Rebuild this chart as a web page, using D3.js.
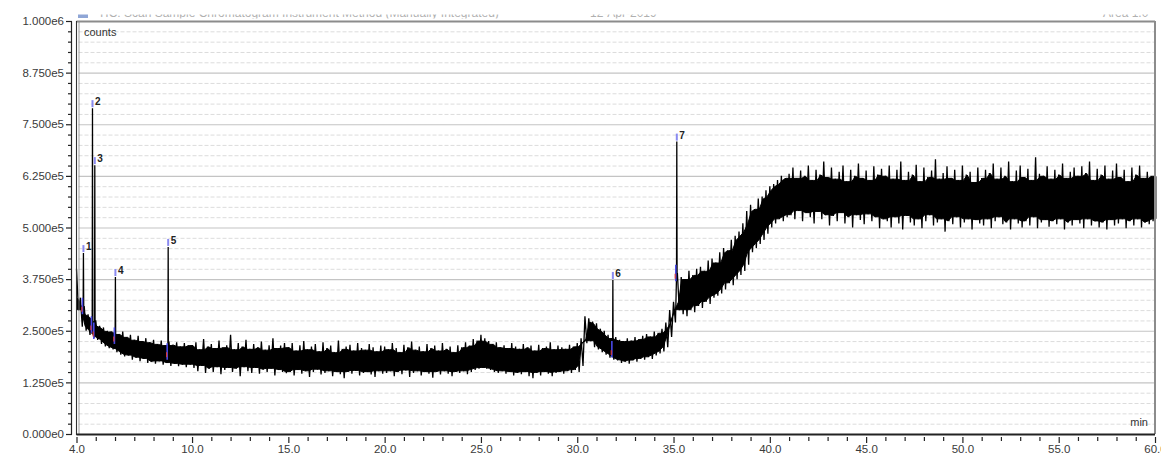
<!DOCTYPE html>
<html>
<head>
<meta charset="utf-8">
<script src="https://cdn.jsdelivr.net/npm/d3@7"></script>
<style>
  html, body { margin: 0; padding: 0; background: #fff; }
  svg { display: block; }
  text { font-family: "Liberation Sans", Arial, sans-serif; }
</style>
</head>
<body>
<svg id="chart" width="1161" height="455"></svg>
<script>
// ---------------- DATA (counts in thousands) ----------------
const T0 = 4.0;          // first sample time (min)
const STEP = 0.2;        // sampling bin (min)

// upper envelope of the noisy trace, one value per 0.2-min bin (k counts)
const traceHigh = [
  // 4.0 - 5.8
  400,330,310,290,285,275,262,258,250,248,
  // 6.0 - 9.8
  250,242,248,235,240,228,238,225,232,222, 228,218,226,215,224,216,222,212,220,215,
  // 10.0 - 14.8
  215,222,205,230,212,218,208,226,210,215, 240,205,220,212,228,206,218,210,224,204, 215,232,208,214,220,
  // 15.0 - 19.8
  210,220,202,215,225,205,212,218,200,222, 208,214,198,226,206,212,216,202,220,208, 204,218,210,200,214,
  // 20.0 - 24.8
  212,205,220,208,198,216,210,224,204,212, 200,218,208,214,202,220,206,212,198,215, 210,222,214,230,226,
  // 25.0 - 30.2
  240,232,225,218,222,210,215,208,220,212, 206,218,210,214,202,216,208,212,222,205, 214,210,206,216,212,220,232,
  // 30.4 - 31.8
  285,280,272,268,255,250,240,232,
  // 32.0 - 34.8
  235,228,225,232,226,235,230,238,242,236,248,245,255,270,300,
  // 35.0 - 40.8
  320,390,380,375,395,385,400,405,395,420, 425,415,440,450,445,470,480,490,510,540, 555,545,570,575,590,600,605,615,625,620,
  // 41.0 - 45.8
  630,645,620,638,625,650,615,640,628,660, 622,645,618,635,650,612,640,625,655,620, 638,615,648,628,642,
  // 46.0 - 50.8
  625,650,618,640,660,615,635,628,652,612, 645,622,638,665,618,632,648,620,640,615, 650,628,635,610,645,
  // 51.0 - 55.8
  620,640,632,655,618,645,625,660,612,638, 650,622,642,615,670,630,625,648,618,640, 628,655,620,635,645,
  // 56.0 - 60.0
  625,648,632,660,615,642,628,650,618,638, 655,622,640,612,645,628,650,620,635,625,630
];

// lower envelope of the noisy trace (k counts)
const traceLow = [
  // 4.0 - 5.8
  300,260,250,240,232,228,218,212,208,205,
  // 6.0 - 9.8
  198,192,188,190,180,185,176,182,172,175, 170,176,168,172,165,170,164,168,162,168,
  // 10.0 - 14.8
  160,152,165,148,158,150,162,145,155,160, 150,158,140,162,152,148,160,146,156,150, 158,142,155,150,147,
  // 15.0 - 19.8
  150,142,155,146,152,138,150,156,144,148, 152,140,150,145,135,150,146,153,142,148, 150,144,138,152,146,
  // 20.0 - 24.8
  148,152,140,150,145,154,138,148,152,142, 150,146,136,150,144,152,146,140,150,148, 152,145,150,155,158,
  // 25.0 - 30.2
  160,158,155,150,148,152,146,150,142,148, 145,150,140,135,148,142,150,146,140,148, 150,146,152,148,155,150,165,
  // 30.4 - 31.8
  220,225,210,205,198,192,185,180,
  // 32.0 - 34.8
  178,172,175,170,178,175,182,180,186,182,190,195,200,210,235,
  // 35.0 - 40.8
  270,300,290,285,300,295,310,305,320,315, 330,335,340,350,365,360,375,385,395,410, 440,450,460,470,485,500,510,520,515,525,
  // 41.0 - 45.8
  530,520,540,515,535,525,510,538,520,530, 505,528,515,535,510,525,500,530,518,508, 532,515,525,498,520,
  // 46.0 - 50.8
  515,500,525,510,495,528,512,505,520,498, 515,530,505,512,520,490,515,508,525,500, 512,520,495,518,510,
  // 51.0 - 55.8
  505,520,498,515,525,508,512,495,520,510, 500,515,505,525,498,512,518,502,515,508, 520,495,512,505,518,
  // 56.0 - 60.0
  510,498,520,505,515,500,512,495,518,505, 510,520,498,515,505,520,500,512,508,515,520
];

// integrated peaks: label, retention time (min), apex and base heights (k counts)
const peakLabels = ["1", "2", "3", "4", "5", "6", "7"];
const peakTimes  = [4.36, 4.83, 4.95, 6.02, 8.76, 31.85, 35.17];
const peakApex   = [438, 789, 651, 380, 453, 373, 708];
const peakBase   = [300, 255, 240, 228, 190, 195, 380];

// axis ticks
const yTickValues = [0, 125, 250, 375, 500, 625, 750, 875, 1000];
const yTickLabels = ["0.000e0","1.250e5","2.500e5","3.750e5","5.000e5","6.250e5","7.500e5","8.750e5","1.000e6"];
const xTickValues = [4, 10, 15, 20, 25, 30, 35, 40, 45, 50, 55, 60];
const xTickLabels = ["4.0","10.0","15.0","20.0","25.0","30.0","35.0","40.0","45.0","50.0","55.0","60.0"];

// ---------------- DRAWING ----------------
const svg = d3.select("#chart");
const L = 76.5, R = 1155, T = 21, B = 434;

const x = d3.scaleLinear().domain([4, 60]).range([L, R]);
const y = d3.scaleLinear().domain([0, 1000]).range([B, T]);

// header (cropped at the top of the picture)
const clip = svg.append("defs").append("clipPath").attr("id", "hdrclip");
clip.append("rect").attr("x", 0).attr("y", 14.5).attr("width", 1161).attr("height", 4);
const hdr = svg.append("g").attr("clip-path", "url(#hdrclip)");
hdr.append("rect").attr("x", 78).attr("y", 14).attr("width", 10).attr("height", 4).attr("fill", "#8fa6d6");
hdr.append("text").attr("x", 98).attr("y", 17).attr("font-size", 12).attr("fill", "#b0b0b0")
  .text("TIC: Scan  Sample Chromatogram  Instrument Method  (Manually Integrated)");
hdr.append("text").attr("x", 590).attr("y", 17).attr("font-size", 12).attr("fill", "#b0b0b0").text("12-Apr-2019");
hdr.append("text").attr("x", 1103).attr("y", 17).attr("font-size", 12).attr("fill", "#b0b0b0").text("Area   1.0");

// grid: minor dashed every 25k, major solid every 125k
const minorY = d3.range(25, 1000, 25).filter(v => v % 125 !== 0);
svg.append("g").selectAll("line").data(minorY).join("line")
  .attr("x1", L + 2).attr("x2", R).attr("y1", d => y(d) + 0.5).attr("y2", d => y(d) + 0.5)
  .attr("stroke", "#dcdcdc").attr("stroke-width", 1).attr("stroke-dasharray", "4,2");
svg.append("g").selectAll("line").data(yTickValues.filter(v => v > 0 && v < 1000)).join("line")
  .attr("x1", L + 2).attr("x2", R).attr("y1", d => y(d) + 0.5).attr("y2", d => y(d) + 0.5)
  .attr("stroke", "#c4c4c4").attr("stroke-width", 1.2);

// solid core of the noise band (inner envelope of neighbouring bins)
const core = traceHigh.map((h, i) => {
  const a = Math.max(0, i - 1), b = Math.min(traceHigh.length - 1, i + 1);
  const hiIn = Math.min(traceHigh[a], traceHigh[i], traceHigh[b]);
  const loIn = Math.max(traceLow[a], traceLow[i], traceLow[b]);
  return { t: T0 + i * STEP + STEP / 4, y1: hiIn - 1, y0: loIn + 1 };
});
svg.append("path").datum(core)
  .attr("fill", "#000").attr("stroke", "#000").attr("stroke-width", 1)
  .attr("d", d3.area().x(d => x(d.t)).y0(d => y(d.y0)).y1(d => y(d.y1)));

// trace: alternating upper/lower envelope plus the peak apexes
const pts = [];
traceHigh.forEach((h, i) => {
  const t = T0 + i * STEP;
  pts.push({ t: t, v: h });
  if (i < traceLow.length && t + STEP / 2 <= 60) pts.push({ t: t + STEP / 2, v: traceLow[i] });
});
peakTimes.forEach((t, i) => {
  pts.push({ t: t - 0.015, v: peakBase[i] });
  pts.push({ t: t, v: peakApex[i] });
  pts.push({ t: t + 0.015, v: peakBase[i] });
});
pts.sort((a, b) => a.t - b.t);

svg.append("path").datum(pts)
  .attr("fill", "none").attr("stroke", "#000").attr("stroke-width", 1.3)
  .attr("stroke-linejoin", "miter")
  .attr("d", d3.line().x(d => x(d.t)).y(d => y(d.v)));

// peak markers: baseline marks (blue/red) and apex marks with labels
const pk = svg.append("g");
peakTimes.forEach((t, i) => {
  const px = x(t);
  pk.append("line").attr("x1", px - 1).attr("x2", px - 1)
    .attr("y1", y(peakBase[i] + 30)).attr("y2", y(peakBase[i] - 10))
    .attr("stroke", "#4a4ae8").attr("stroke-width", 1.6);
  pk.append("line").attr("x1", px - 1.6).attr("x2", px - 1.6)
    .attr("y1", y(peakBase[i] + 8)).attr("y2", y(peakBase[i] - 4))
    .attr("stroke", "#d83a3a").attr("stroke-width", 1.2);
  pk.append("line").attr("x1", px).attr("x2", px)
    .attr("y1", y(peakApex[i]) - 8).attr("y2", y(peakApex[i]) - 1)
    .attr("stroke", "#8a8af0").attr("stroke-width", 2);
  pk.append("text").attr("x", px + 2.5).attr("y", y(peakApex[i]) - 3)
    .attr("font-size", 10).attr("font-weight", "bold").attr("fill", "#222")
    .text(peakLabels[i]);
});

// frame
svg.append("line").attr("x1", L).attr("x2", R).attr("y1", T + 0.5).attr("y2", T + 0.5)
  .attr("stroke", "#8c8c8c").attr("stroke-width", 2);
svg.append("line").attr("x1", R).attr("x2", R).attr("y1", T).attr("y2", B)
  .attr("stroke", "#8c8c8c").attr("stroke-width", 2);
svg.append("line").attr("x1", L).attr("x2", L).attr("y1", T).attr("y2", B + 1)
  .attr("stroke", "#333").attr("stroke-width", 1.1);
svg.append("line").attr("x1", L + 2.5).attr("x2", L + 2.5).attr("y1", T).attr("y2", B)
  .attr("stroke", "#888").attr("stroke-width", 0.8);
svg.append("line").attr("x1", L).attr("x2", R).attr("y1", B + 0.5).attr("y2", B + 0.5)
  .attr("stroke", "#222").attr("stroke-width", 2);

// y axis (ticks left of the frame)
const yAxis = d3.axisLeft(y)
  .tickValues(d3.range(0, 1001, 25))
  .tickSize(0)
  .tickFormat(d => { const k = yTickValues.indexOf(d); return k >= 0 ? yTickLabels[k] : ""; });
const gy = svg.append("g").attr("transform", "translate(71,0)").call(yAxis);
gy.select(".domain").attr("stroke", "#222").attr("stroke-width", 1.2);
gy.selectAll(".tick line")
  .attr("x2", d => 1)
  .attr("x1", d => (d % 125 === 0 ? -5 : -3))
  .attr("stroke", "#222").attr("stroke-width", 1.2);
gy.selectAll(".tick text").attr("x", -7).attr("font-size", 11.5).attr("fill", "#3a3a3a")
  .attr("font-family", "'Liberation Sans', Arial, sans-serif");

// x axis (ticks below the frame)
const xAxis = d3.axisBottom(x)
  .tickValues(d3.range(4, 61, 1))
  .tickSize(0)
  .tickFormat(d => { const k = xTickValues.indexOf(d); return k >= 0 ? xTickLabels[k] : ""; });
const gx = svg.append("g").attr("transform", `translate(0,${B + 2})`).call(xAxis);
gx.select(".domain").remove();
gx.selectAll(".tick line")
  .attr("y1", 1).attr("y2", d => (xTickValues.indexOf(d) >= 0 ? 7 : 5))
  .attr("stroke", "#222").attr("stroke-width", 1.2);
gx.selectAll(".tick text").attr("y", 9).attr("dy", "0.71em").attr("font-size", 11.5).attr("fill", "#3a3a3a")
  .attr("font-family", "'Liberation Sans', Arial, sans-serif");

// in-plot axis titles
svg.append("text").attr("x", 84).attr("y", 36).attr("font-size", 11).attr("fill", "#333").text("counts");
svg.append("text").attr("x", 1148).attr("y", 426).attr("text-anchor", "end")
  .attr("font-size", 11).attr("fill", "#333").text("min");
</script>
</body>
</html>
